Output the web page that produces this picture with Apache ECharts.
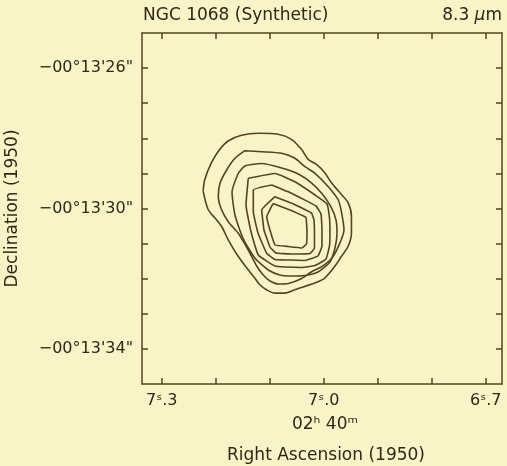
<!DOCTYPE html>
<html>
<head>
<meta charset="utf-8">
<script src="https://cdn.jsdelivr.net/npm/echarts@6/dist/echarts.min.js"></script>
<style>
html,body{margin:0;padding:0;background:#f9f4c7;}
#c{width:507px;height:466px;}
</style>
</head>
<body>
<div id="c"></div>
<script>
// RA seconds (02h 40m  s) and Dec arcsec (-00°13' d") of each contour vertex
const xTicks = [6.7, 6.8, 6.9, 7.0, 7.1, 7.2, 7.3];
const xLabels = [6.7, 7.0, 7.3];
const yTicks = [26, 27, 28, 29, 30, 31, 32, 33, 34];
const yLabels = [26, 30, 34];

const contour1 = [[7.2235,29.505],[7.2204,29.171],[7.2080,28.695],[7.1926,28.314],[7.1772,28.076],[7.1525,27.914],[7.1216,27.857],[7.0846,27.886],[7.0599,28.029],[7.0414,28.314],[7.0290,28.600],[7.0136,28.743],[6.9982,28.981],[6.9858,29.267],[6.9673,29.600],[6.9549,29.838],[6.9488,30.219],[6.9488,30.695],[6.9549,31.076],[6.9673,31.362],[6.9796,31.648],[6.9982,31.981],[7.0167,32.124],[7.0352,32.219],[7.0537,32.314],[7.0722,32.410],[7.0908,32.410],[7.1062,32.314],[7.1185,32.171],[7.1278,31.981],[7.1401,31.743],[7.1587,31.362],[7.1772,30.886],[7.1895,30.505],[7.2019,30.267],[7.2142,30.029]];
const contour2 = [[7.1460,28.353],[7.1150,28.382],[7.0780,28.427],[7.0534,28.570],[7.0349,28.809],[7.0163,28.997],[6.9917,29.379],[6.9732,29.758],[6.9669,30.137],[6.9626,30.613],[6.9732,31.088],[6.9854,31.419],[7.0039,31.658],[7.0224,31.801],[7.0410,31.994],[7.0658,32.137],[7.0843,32.151],[7.0997,32.066],[7.1121,31.895],[7.1243,31.638],[7.1399,31.182],[7.1584,30.707],[7.1769,30.376],[7.1891,30.043],[7.1954,29.664],[7.1923,29.282],[7.1799,28.903],[7.1645,28.570]];
const contour3 = [[7.1584,28.997],[7.1460,28.789],[7.1150,28.718],[7.0780,28.846],[7.0473,29.017],[7.0224,29.274],[7.0039,29.567],[6.9867,29.957],[6.9774,30.328],[6.9756,30.698],[6.9793,31.125],[6.9886,31.524],[7.0108,31.809],[7.0349,31.909],[7.0595,31.923],[7.0811,31.895],[7.1028,31.752],[7.1274,31.419],[7.1497,30.849],[7.1645,30.185],[7.1700,29.530]];
const contour4 = [[7.1399,29.140],[7.0904,29.003],[7.0534,29.237],[7.0163,29.615],[6.9941,29.872],[6.9895,30.271],[6.9886,30.670],[6.9895,31.068],[6.9960,31.439],[7.0163,31.624],[7.0410,31.681],[7.0719,31.667],[7.0904,31.638],[7.1213,31.325],[7.1349,30.655],[7.1441,29.900]];
const contour5 = [[7.0965,29.331],[7.0589,29.573],[7.0145,29.929],[7.0052,30.157],[7.0034,30.613],[7.0034,31.068],[7.0108,31.353],[7.0349,31.481],[7.0626,31.467],[7.0904,31.453],[7.1058,31.276],[7.1219,30.698],[7.1306,30.091],[7.1306,29.473]];
const contour6 = [[7.0904,29.664],[7.0589,29.852],[7.0228,30.128],[7.0182,30.328],[7.0173,30.755],[7.0173,31.125],[7.0256,31.282],[7.0589,31.296],[7.0886,31.268],[7.0997,31.097],[7.1108,30.613],[7.1150,30.043]];
const contour7 = [[7.0941,29.858],[7.0626,30.043],[7.0330,30.256],[7.0311,30.670],[7.0321,31.011],[7.0404,31.125],[7.0663,31.083],[7.0904,31.040],[7.0997,30.613],[7.1058,30.228]];

const contours = [contour1, contour2, contour3, contour4, contour5, contour6, contour7];
const smoothness = [0.3, 0.25, 0.2, 0.12, 0.1, 0.08, 0.05];

const ink = '#54451f';
const txt = '#2f2717';
const font = 'DejaVu Sans';

function xFmt(v){
  const s = v.toFixed(1).split('.');
  return s[0] + 'ˢ.' + s[1];
}
function yFmt(v){
  return '\u221200°13\'' + v + '"';
}

const chart = echarts.init(document.getElementById('c'), null, {renderer:'canvas'});
const axisCommon = {
  type:'value',
  axisLine:{show:true, lineStyle:{color:ink, width:1.5}},
  splitLine:{show:false}
};
chart.setOption({
  backgroundColor:'#f9f4c7',
  animation:false,
  grid:{left:142, top:33, width:360, height:351, containLabel:false, outerBoundsMode:'none'},
  xAxis:[
    Object.assign({}, axisCommon, {
      position:'bottom', inverse:true, min:6.67, max:7.3367,
      axisTick:{show:true, inside:true, length:6, customValues:xTicks, lineStyle:{color:ink, width:1.5}},
      axisLabel:{show:true, customValues:xLabels, formatter:xFmt, margin:9, color:txt, fontFamily:font, fontSize:16}
    }),
    Object.assign({}, axisCommon, {
      position:'top', inverse:true, min:6.67, max:7.3367,
      axisTick:{show:true, inside:true, length:6, customValues:xTicks, lineStyle:{color:ink, width:1.5}},
      axisLabel:{show:false}
    })
  ],
  yAxis:[
    Object.assign({}, axisCommon, {
      position:'left', inverse:true, min:25, max:35,
      axisTick:{show:true, inside:true, length:6, customValues:yTicks, lineStyle:{color:ink, width:1.5}},
      axisLabel:{show:true, customValues:yLabels, formatter:yFmt, margin:9, color:txt, fontFamily:font, fontSize:16},
      name:'Declination (1950)', nameLocation:'middle', nameGap:121, nameRotate:90,
      nameTextStyle:{color:txt, fontFamily:font, fontSize:17}
    }),
    Object.assign({}, axisCommon, {
      position:'right', inverse:true, min:25, max:35,
      axisTick:{show:true, inside:true, length:6, customValues:yTicks, lineStyle:{color:ink, width:1.5}},
      axisLabel:{show:false}
    })
  ],
  series: contours.map(function(c, i){
    return {
      type:'line', xAxisIndex:0, yAxisIndex:0,
      data: c.concat([c[0]]),
      showSymbol:false, symbol:'none', smooth:smoothness[i],
      lineStyle:{color:ink, width:1.6},
      silent:true
    };
  }),
  graphic:[
    {type:'text', left:143, top:7, style:{text:'NGC 1068 (Synthetic)', fill:txt, font:'17px "DejaVu Sans"'}},
    {type:'text', right:5, top:7, style:{text:'8.3 {i|μ}m', fill:txt, font:'17px "DejaVu Sans"',
      rich:{i:{fontStyle:'italic', fontFamily:'DejaVu Sans', fontSize:17, fill:txt}}}},
    {type:'text', x:325, y:425, style:{text:'02ʰ 40ᵐ', fill:txt, font:'17px "DejaVu Sans"', align:'center', verticalAlign:'middle'}},
    {type:'text', x:326, y:456, style:{text:'Right Ascension (1950)', fill:txt, font:'17px "DejaVu Sans"', align:'center', verticalAlign:'middle'}}
  ]
});
</script>
</body>
</html>
